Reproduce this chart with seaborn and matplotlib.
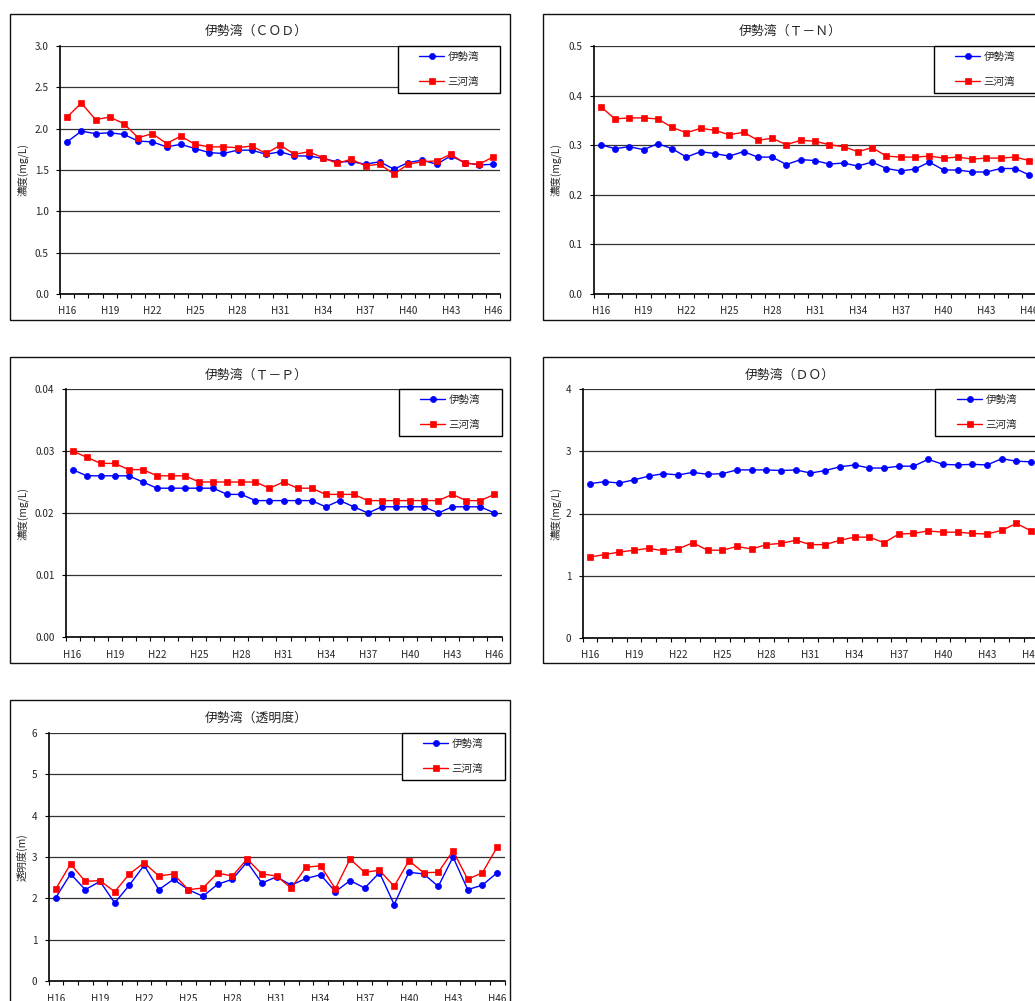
import matplotlib
matplotlib.use("Agg")
import matplotlib.pyplot as plt
from matplotlib.patches import Rectangle
from matplotlib.ticker import FixedLocator
import numpy as np
import pandas as pd
import seaborn as sns

# ---------------- data ----------------
years = [f"H{y}" for y in range(16, 47)]
series_names = ["伊勢湾", "三河湾"]

cod_ise = [1.84, 1.97, 1.94, 1.95, 1.93, 1.85, 1.84, 1.78, 1.81, 1.76, 1.71, 1.70, 1.74, 1.74, 1.69, 1.72,
           1.67, 1.67, 1.64, 1.60, 1.60, 1.57, 1.60, 1.51, 1.59, 1.62, 1.57, 1.67, 1.59, 1.56, 1.57]
cod_mikawa = [2.14, 2.31, 2.11, 2.14, 2.06, 1.89, 1.94, 1.82, 1.91, 1.81, 1.78, 1.78, 1.77, 1.79, 1.70, 1.80,
              1.69, 1.72, 1.65, 1.58, 1.63, 1.55, 1.57, 1.45, 1.57, 1.60, 1.61, 1.69, 1.58, 1.57, 1.66]

tn_ise = [0.301, 0.293, 0.297, 0.291, 0.303, 0.293, 0.276, 0.287, 0.283, 0.278, 0.287, 0.276, 0.276, 0.261,
          0.271, 0.269, 0.262, 0.264, 0.258, 0.266, 0.253, 0.248, 0.252, 0.266, 0.250, 0.250, 0.246, 0.246,
          0.253, 0.253, 0.240]
tn_mikawa = [0.378, 0.353, 0.355, 0.355, 0.353, 0.336, 0.325, 0.334, 0.330, 0.321, 0.326, 0.310, 0.314, 0.301,
             0.310, 0.308, 0.301, 0.297, 0.287, 0.295, 0.278, 0.276, 0.276, 0.278, 0.274, 0.276, 0.272, 0.274,
             0.274, 0.276, 0.269]

tp_ise = [0.027, 0.026, 0.026, 0.026, 0.026, 0.025, 0.024, 0.024, 0.024, 0.024, 0.024, 0.023, 0.023, 0.022,
          0.022, 0.022, 0.022, 0.022, 0.021, 0.022, 0.021, 0.020, 0.021, 0.021, 0.021, 0.021, 0.020, 0.021,
          0.021, 0.021, 0.020]
tp_mikawa = [0.030, 0.029, 0.028, 0.028, 0.027, 0.027, 0.026, 0.026, 0.026, 0.025, 0.025, 0.025, 0.025, 0.025,
             0.024, 0.025, 0.024, 0.024, 0.023, 0.023, 0.023, 0.022, 0.022, 0.022, 0.022, 0.022, 0.022, 0.023,
             0.022, 0.022, 0.023]

do_ise = [2.48, 2.51, 2.49, 2.54, 2.60, 2.64, 2.62, 2.66, 2.63, 2.64, 2.70, 2.70, 2.70, 2.69, 2.70, 2.65,
          2.69, 2.75, 2.78, 2.73, 2.73, 2.76, 2.76, 2.87, 2.79, 2.78, 2.79, 2.78, 2.88, 2.84, 2.83]
do_mikawa = [1.30, 1.34, 1.38, 1.41, 1.44, 1.40, 1.43, 1.53, 1.41, 1.41, 1.47, 1.43, 1.50, 1.52, 1.57, 1.50,
             1.50, 1.57, 1.62, 1.62, 1.53, 1.67, 1.68, 1.72, 1.70, 1.70, 1.68, 1.67, 1.73, 1.84, 1.72]

sd_ise = [2.02, 2.59, 2.21, 2.41, 1.89, 2.32, 2.80, 2.21, 2.46, 2.21, 2.05, 2.34, 2.46, 2.88, 2.37, 2.52,
          2.32, 2.48, 2.57, 2.16, 2.43, 2.25, 2.62, 1.85, 2.63, 2.59, 2.29, 3.00, 2.21, 2.32, 2.62]
sd_mikawa = [2.23, 2.83, 2.41, 2.43, 2.16, 2.59, 2.86, 2.54, 2.59, 2.21, 2.25, 2.61, 2.54, 2.95, 2.59, 2.54,
             2.25, 2.75, 2.79, 2.23, 2.95, 2.63, 2.68, 2.29, 2.91, 2.62, 2.63, 3.15, 2.46, 2.62, 3.24]

titles = ["伊勢湾（ＣＯＤ）", "伊勢湾（Ｔ－Ｎ）", "伊勢湾（Ｔ－Ｐ）", "伊勢湾（ＤＯ）", "伊勢湾（透明度）"]
ylabels = ["濃度(mg/L)", "濃度(mg/L)", "濃度(mg/L)", "濃度(mg/L)", "透明度(m)"]

# ---------------- style ----------------
sns.set_theme(style="white")
plt.rcParams["font.family"] = ["Noto Sans CJK JP", "DejaVu Sans"]

W, H = 1035, 1001
fig = plt.figure(figsize=(W / 100, H / 100), dpi=100)
fig.patch.set_facecolor("white")

def fig_axes(l, t, r, b):
    return fig.add_axes([l / W, 1 - b / H, (r - l) / W, (b - t) / H])

panels = [
    dict(ax=(60, 46, 500.5, 294), frame=(10, 14, 510, 320), tc=(256, 31), ylx=29,
         data=(cod_ise, cod_mikawa), ylim=(0, 3.0), step=0.5, fmt="{:.1f}"),
    dict(ax=(593.5, 46, 1036.5, 294), frame=(543, 14, 1043, 320), tc=(790, 31), ylx=562,
         data=(tn_ise, tn_mikawa), ylim=(0, 0.5), step=0.1, fmt="{:.1f}"),
    dict(ax=(65.5, 389, 501.5, 637), frame=(10, 357, 510, 663), tc=(256, 375), ylx=29,
         data=(tp_ise, tp_mikawa), ylim=(0, 0.04), step=0.01, fmt="{:.2f}"),
    dict(ax=(582.5, 389, 1038.5, 638), frame=(543, 357, 1043, 663), tc=(790, 375), ylx=562,
         data=(do_ise, do_mikawa), ylim=(0, 4), step=1, fmt="{:.0f}"),
    dict(ax=(48.5, 733, 504.5, 981), frame=(10, 700, 510, 1010), tc=(256, 718), ylx=28,
         data=(sd_ise, sd_mikawa), ylim=(0, 6), step=1, fmt="{:.0f}"),
]

colors = {"伊勢湾": "#0000FF", "三河湾": "#FF0000"}
markers = {"伊勢湾": "o", "三河湾": "s"}
msizes = {"伊勢湾": 4.4, "三河湾": 4.8}

x_idx = np.arange(len(years))

for i, p in enumerate(panels):
    fl, ft, fr, fb = p["frame"]
    fig.add_artist(Rectangle((fl / W, 1 - fb / H), (fr - fl) / W, (fb - ft) / H,
                             transform=fig.transFigure, fill=False, edgecolor="#111111",
                             linewidth=1.0, zorder=0))
    l, t, r, b = p["ax"]
    ax = fig_axes(l, t, r, b)
    ax.set_facecolor("white")

    for name, vals in zip(series_names, p["data"]):
        df = pd.DataFrame({"x": x_idx, "y": vals})
        sns.lineplot(data=df, x="x", y="y", ax=ax, color=colors[name], marker=markers[name],
                     markersize=msizes[name], markeredgecolor=colors[name], markeredgewidth=0.5,
                     linewidth=1.0, label=name, zorder=3)

    ymin, ymax = p["ylim"]
    ax.set_ylim(ymin, ymax)
    ax.set_xlim(-0.5, len(years) - 0.5)
    yt = np.round(np.arange(ymin, ymax + p["step"] / 2, p["step"]), 4)
    ax.set_yticks(yt)
    ax.set_yticklabels([p["fmt"].format(v) for v in yt], fontsize=7.2)
    ax.yaxis.grid(True, color="#333333", linewidth=0.9)
    ax.xaxis.grid(False)
    ax.set_axisbelow(True)

    ax.set_xticks(x_idx[::3])
    ax.set_xticklabels(years[::3], fontsize=7.2)
    ax.xaxis.set_minor_locator(FixedLocator(np.arange(-0.5, len(years), 1.0)))
    ax.tick_params(axis="x", which="major", length=0, pad=9)
    ax.tick_params(axis="x", which="minor", length=3, width=0.8, direction="out", color="black", bottom=True)
    ax.tick_params(axis="y", which="major", length=3, width=0.8, direction="out", color="black", left=True, pad=5)

    for s in ["top", "right"]:
        ax.spines[s].set_visible(False)
    for s in ["left", "bottom"]:
        ax.spines[s].set_visible(True)
        ax.spines[s].set_color("black")
        ax.spines[s].set_linewidth(1.2)

    ax.set_xlabel("")
    ax.set_ylabel(ylabels[i], fontsize=7.5)
    ax.yaxis.set_label_coords((p["ylx"] - l) / (r - l), 0.5)

    fig.text(p["tc"][0] / W, 1 - p["tc"][1] / H, titles[i], fontsize=9.3,
             ha="center", va="center")

    bw, bh = 103 / (r - l), 47 / (b - t)
    ax.add_patch(Rectangle((1 - bw, 1 - bh), bw, bh, transform=ax.transAxes, facecolor="white",
                           edgecolor="black", linewidth=1.0, zorder=5, clip_on=False))
    handles, labels = ax.get_legend_handles_labels()
    leg = ax.legend(handles, labels, loc="center", bbox_to_anchor=(1 - bw / 2, 1 - bh / 2),
                    frameon=False, fontsize=7.6, handlelength=2.4, handletextpad=0.3,
                    labelspacing=1.4, borderpad=0)
    leg.set_zorder(6)

fig.savefig("out.png", dpi=100)
